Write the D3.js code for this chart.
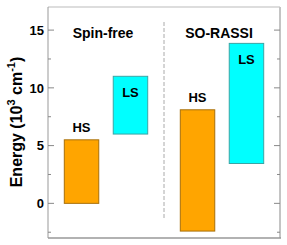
<!DOCTYPE html>
<html><head><meta charset="utf-8">
<script src="https://cdn.jsdelivr.net/npm/d3@7"></script>
<style>body{margin:0;background:#fff}svg{display:block}text{font-family:"Liberation Sans",Arial,sans-serif;font-weight:bold}</style>
</head><body>
<script>
const groups = ["Spin-free", "SO-RASSI"];
const states = ["HS", "LS"];
const lowValues  = [[0, 6.0], [-2.4, 3.45]];
const highValues = [[5.5, 11.0], [8.1, 13.85]];
const yMajorTicks = [0, 5, 10, 15];
const yMinorTicks = [-2.5, 2.5, 7.5, 12.5];
const colors = {HS: "#FFA500", LS: "#00FFFF"};
const strokes = {HS: "#a8700a", LS: "#3aa5a5"};

const W = 287, H = 245;
const m = {l: 48, r: 7, t: 7, b: 7};
const svg = d3.select("body").append("svg").attr("width", W).attr("height", H);

const y = d3.scaleLinear().domain([-3, 17]).range([H - m.b, m.t]);
const xOuter = d3.scaleBand().domain(groups).range([m.l, W - m.r]).padding(0);
const xInner = d3.scaleBand().domain(states).range([0, xOuter.bandwidth()])
  .paddingInner(0.296).paddingOuter(0.333);

// frame
svg.append("line").attr("x1", m.l).attr("x2", W - m.r).attr("y1", m.t).attr("y2", m.t)
  .attr("stroke", "#bbb").attr("stroke-width", 1.2);
svg.append("line").attr("x1", W - m.r).attr("x2", W - m.r).attr("y1", m.t).attr("y2", H - m.b)
  .attr("stroke", "#c4c4c4").attr("stroke-width", 2);
svg.append("line").attr("x1", m.l).attr("x2", m.l).attr("y1", m.t).attr("y2", H - m.b)
  .attr("stroke", "#999").attr("stroke-width", 1);
svg.append("line").attr("x1", m.l).attr("x2", W - m.r + 1).attr("y1", H - m.b).attr("y2", H - m.b)
  .attr("stroke", "#999").attr("stroke-width", 1.4);

// ticks (inward, both sides)
const tickG = svg.append("g").attr("stroke", "#888").attr("stroke-width", 1);
yMajorTicks.forEach(v => {
  tickG.append("line").attr("x1", m.l).attr("x2", m.l + 6).attr("y1", y(v)).attr("y2", y(v));
  tickG.append("line").attr("x1", W - m.r).attr("x2", W - m.r - 6).attr("y1", y(v)).attr("y2", y(v));
});
yMinorTicks.forEach(v => {
  tickG.append("line").attr("x1", m.l).attr("x2", m.l + 3).attr("y1", y(v)).attr("y2", y(v));
  tickG.append("line").attr("x1", W - m.r).attr("x2", W - m.r - 3).attr("y1", y(v)).attr("y2", y(v));
});
svg.append("g").selectAll("text").data(yMajorTicks).join("text")
  .attr("x", m.l - 4).attr("y", d => y(d)).attr("dy", "0.36em")
  .attr("text-anchor", "end").attr("font-size", 13).attr("fill", "#000").text(d => d);

// y label
const yl = svg.append("text").attr("transform", `translate(22,122) rotate(-90)`)
  .attr("text-anchor", "middle").attr("font-size", 16).attr("fill", "#000");
yl.append("tspan").text("Energy (10");
yl.append("tspan").attr("font-size", 11).attr("dy", -7).text("3");
yl.append("tspan").attr("dy", 7).text(" cm");
yl.append("tspan").attr("font-size", 11).attr("dy", -7).text("-1");
yl.append("tspan").attr("dy", 7).text(")");

// divider
svg.append("line").attr("x1", xOuter("SO-RASSI")).attr("x2", xOuter("SO-RASSI"))
  .attr("y1", 22).attr("y2", 218).attr("stroke", "#aaa").attr("stroke-width", 1)
  .attr("stroke-dasharray", "4,2");

// group titles
svg.append("g").selectAll("text").data(groups).join("text")
  .attr("x", d => xOuter(d) + xOuter.bandwidth() / 2 - 3).attr("y", 38)
  .attr("text-anchor", "middle").attr("font-size", 14).attr("fill", "#000").text(d => d);

// bars
const bars = [];
groups.forEach((g, gi) => states.forEach((s, si) => bars.push({
  g, s, lo: lowValues[gi][si], hi: highValues[gi][si]
})));
const bx = d => xOuter(d.g) + xInner(d.s);
svg.append("g").selectAll("rect").data(bars).join("rect")
  .attr("x", bx).attr("width", xInner.bandwidth())
  .attr("y", d => y(d.hi)).attr("height", d => y(d.lo) - y(d.hi))
  .attr("fill", d => colors[d.s]).attr("stroke", d => strokes[d.s]).attr("stroke-width", 1);

svg.append("g").selectAll("text").data(bars).join("text")
  .attr("x", d => bx(d) + xInner.bandwidth() / 2)
  .attr("y", d => d.s === "HS" ? y(d.hi) - 8 : y(d.hi) + 21)
  .attr("text-anchor", "middle").attr("font-size", 13).attr("fill", "#000").text(d => d.s);
</script>
</body></html>
